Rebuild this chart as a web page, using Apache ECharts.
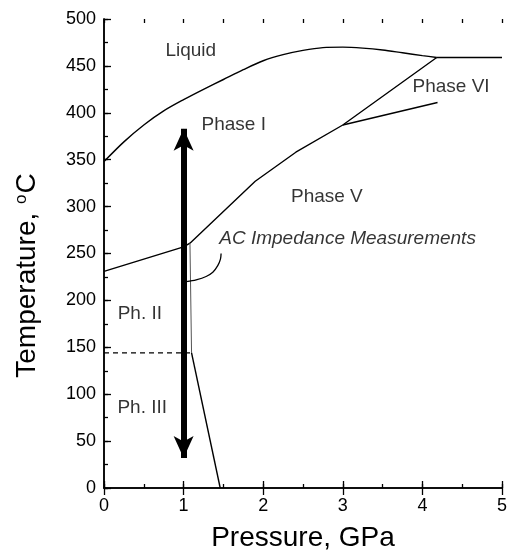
<!DOCTYPE html>
<html>
<head>
<meta charset="utf-8">
<script src="https://cdn.jsdelivr.net/npm/echarts@6/dist/echarts.min.js"></script>
<style>
html,body{margin:0;padding:0;background:#fff;}
#c{width:510px;height:557px;}
</style>
</head>
<body>
<div id="c"></div>
<script>
// Data (Pressure GPa, Temperature °C)
var liquidus = [[0,348],[0.25,369],[0.5,387],[0.75,402],[1.0,414],[1.25,425],[1.5,435.5],[1.75,446],[2.0,455.5],[2.25,462],[2.5,466.5],[2.75,469.5],[3.0,470],[3.25,469],[3.5,467],[3.75,464],[4.0,461],[4.18,459]];
var liquidusFlat = [[4.18,459],[5,459]];
var phaseIV = [[1.08,261],[1.9,327],[2.41,358],[3.0,387],[4.18,459]];
var phaseVVI = [[3.0,387],[4.19,411]];
var phaseIII = [[0,231],[1.0,257],[1.08,261]];
var phaseIIV = [[1.08,261],[1.1,144]];
var phaseIIIV = [[1.1,144],[1.46,0]];
var phaseIIIII = [[0,144],[1.1,144]];
var arrowEnds = [[1.0,32],[1.0,383]];
var leader = [[1.471,250],[1.463,244],[1.429,237],[1.367,230],[1.283,225.5],[1.158,222],[1.033,220]];
var labelNames = ['Liquid','Phase I','Phase V','Phase VI','Ph. II','Ph. III'];
var labelPos = [[1.09,466],[1.63,387],[2.8,311],[4.36,428],[0.45,186],[0.48,86]];
var noteText = 'AC Impedance Measurements';
var notePos = [3.06,266];
var xTicks = [0,1,2,3,4,5];
var yTicks = [0,50,100,150,200,250,300,350,400,450,500];

var FONT = '"Liberation Sans", Arial, Helvetica, sans-serif';
var xMin = xTicks[0], xMax = xTicks[xTicks.length-1];
var yMin = yTicks[0], yMax = yTicks[yTicks.length-1];

function lineSeries(d, opts){
  opts = opts || {};
  return {
    type:'line', data:d, symbol:'none', silent:true,
    smooth: opts.smooth || false,
    lineStyle:{color: opts.color || '#000', width: opts.width || 1.4, type: opts.type || 'solid'},
    z: opts.z || 2
  };
}
function tickAxis(kind, pos, interval, len){
  return {
    type:'value', position:pos, interval:interval,
    min: kind==='x' ? xMin : yMin, max: kind==='x' ? xMax : yMax,
    axisLine:{show:false},
    axisTick:{show:true, inside:true, length:len, lineStyle:{color:'#000', width:1.3}},
    axisLabel:{show:false}, splitLine:{show:false}
  };
}
var labelData = labelNames.map(function(n,i){ return {name:n, value:labelPos[i]}; });
labelData.push({name:noteText, value:notePos, label:{fontStyle:'italic'}});

var chart = echarts.init(document.getElementById('c'));
chart.setOption({
  animation:false,
  backgroundColor:'#fff',
  grid:{left:104, right:7, top:19, bottom:69},
  xAxis:[{
    type:'value', min:xMin, max:xMax, interval:1, position:'bottom',
    name:'Pressure, GPa', nameLocation:'middle', nameGap:36,
    nameTextStyle:{fontSize:28, color:'#000', fontFamily:FONT},
    axisLine:{lineStyle:{color:'#000', width:1.5}},
    axisTick:{inside:true, length:7, lineStyle:{color:'#000', width:1.3}},
    axisLabel:{fontSize:18, color:'#000', margin:9, fontFamily:FONT},
    splitLine:{show:false}
  },
  tickAxis('x','bottom',0.5,4),
  (function(){ var a = tickAxis('x','top',1,7); a.axisLine = {show:true, lineStyle:{color:'#000', width:1.5}}; return a; })(),
  tickAxis('x','top',0.5,4)
  ],
  yAxis:[{
    type:'value', min:yMin, max:yMax, interval:50, position:'left',
    name:'{t|Temperature, }{s|o}{t|C}', nameLocation:'middle', nameGap:62,
    nameTextStyle:{color:'#000', fontFamily:FONT, padding:[0,44,0,0],
      rich:{t:{fontSize:28, fontFamily:FONT, color:'#000'}, s:{fontSize:17, fontFamily:FONT, color:'#000', verticalAlign:'top', padding:[0,1,12,1]}}},
    axisLine:{lineStyle:{color:'#000', width:1.5}},
    axisTick:{inside:true, length:7, lineStyle:{color:'#000', width:1.3}},
    axisLabel:{fontSize:18, color:'#000', margin:8, fontFamily:FONT},
    splitLine:{show:false}
  },
  tickAxis('y','left',25,4),
  {
    type:'value', position:'right', min:yMin, max:yMax, interval:50,
    axisLine:{show:true, lineStyle:{color:'#000', width:1.5}},
    axisTick:{show:false}, axisLabel:{show:false}, splitLine:{show:false}
  }],
  series:[
    lineSeries(liquidus, {smooth:0.3}),
    lineSeries(liquidusFlat),
    lineSeries(phaseIV),
    lineSeries(phaseVVI),
    lineSeries(phaseIII),
    lineSeries(phaseIIV, {color:'#555', width:1}),
    lineSeries(phaseIIIV),
    lineSeries(phaseIIIII, {type:[5,4], width:1.3}),
    lineSeries(leader, {smooth:0.3, width:1.3}),
    {
      type:'line', data:[], symbol:'none', silent:true,
      markLine:{
        silent:true, symbol:['arrow','arrow'], symbolSize:[15,22],
        label:{show:false},
        lineStyle:{color:'#000', width:6, type:'solid'},
        data:[[{coord:arrowEnds[0]},{coord:arrowEnds[1]}]]
      },
      z:5
    },
    {
      type:'scatter', data:labelData, symbolSize:1, silent:true,
      itemStyle:{color:'rgba(0,0,0,0)'},
      label:{show:true, position:'inside', formatter:'{b}', fontSize:19, color:'#000', fontFamily:FONT},
      z:6
    }
  ]
});
</script>
</body>
</html>
